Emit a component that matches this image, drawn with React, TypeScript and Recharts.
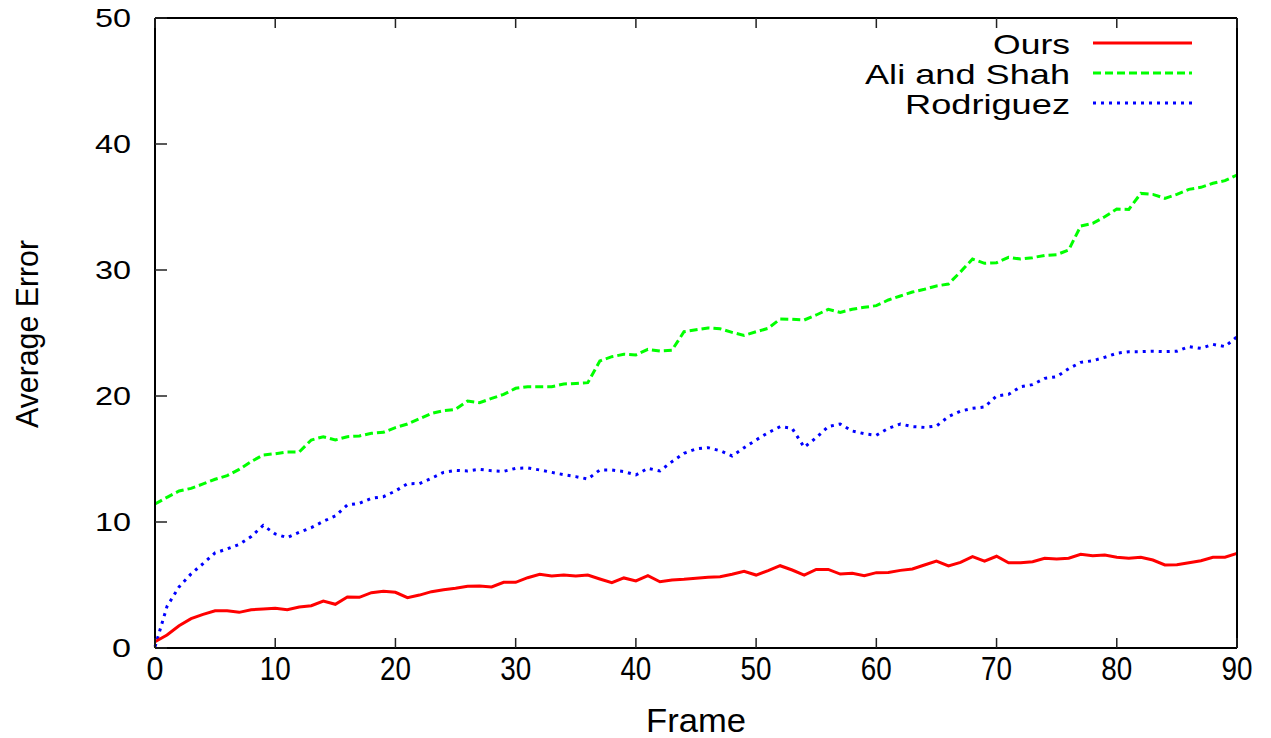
import { LineChart, Line, XAxis, YAxis } from 'recharts';

const ours = [
    0.5, 1.03, 1.77, 2.33, 2.67, 2.96, 2.96, 2.83, 3.04, 3.1,
    3.15, 3.04, 3.25, 3.36, 3.73, 3.47, 4.05, 4.02, 4.39, 4.5,
    4.42, 3.99, 4.2, 4.47, 4.63, 4.74, 4.9, 4.92, 4.84, 5.21,
    5.21, 5.58, 5.85, 5.71, 5.79, 5.71, 5.79, 5.48, 5.19, 5.56,
    5.32, 5.74, 5.26, 5.4, 5.45, 5.53, 5.61, 5.66, 5.85, 6.08,
    5.79, 6.14, 6.53, 6.19, 5.79, 6.24, 6.24, 5.87, 5.93, 5.74,
    5.98, 6.0, 6.16, 6.27, 6.59, 6.9, 6.51, 6.8, 7.25, 6.9,
    7.28, 6.77, 6.77, 6.85, 7.12, 7.06, 7.12, 7.43, 7.33, 7.38,
    7.2, 7.12, 7.2, 6.98, 6.59, 6.61, 6.77, 6.93, 7.2, 7.2,
    7.51,
];

const aliShah = [
    11.43, 11.96, 12.46, 12.67, 13.02, 13.39, 13.68, 14.18, 14.79, 15.32,
    15.42, 15.56, 15.56, 16.51, 16.77, 16.51, 16.77, 16.83, 17.04, 17.12,
    17.49, 17.78, 18.2, 18.62, 18.84, 18.94, 19.6, 19.47, 19.81, 20.13,
    20.61, 20.74, 20.74, 20.74, 20.95, 21.0, 21.06, 22.78, 23.12, 23.31,
    23.26, 23.7, 23.57, 23.63, 25.1, 25.25, 25.4, 25.34, 25.05, 24.81,
    25.1, 25.37, 26.11, 26.09, 26.03, 26.43, 26.88, 26.64, 26.88, 27.04,
    27.17, 27.62, 27.94, 28.25, 28.47, 28.73, 28.89, 29.85, 30.87, 30.53,
    30.58, 31.01, 30.87, 30.98, 31.16, 31.22, 31.59, 33.49, 33.7, 34.23,
    34.84, 34.81, 36.08, 36.0, 35.69, 36.0, 36.4, 36.56, 36.88, 37.09,
    37.54,
];

const rodriguez = [
    0.1, 3.3, 4.85, 5.88, 6.7, 7.55, 7.86, 8.22, 8.85, 9.73,
    9.05, 8.76, 9.18, 9.55, 10.05, 10.48, 11.35, 11.48, 11.88, 12.01,
    12.46, 13.04, 13.05, 13.47, 13.94, 14.1, 14.05, 14.18, 14.07, 14.02,
    14.26, 14.29, 14.13, 13.94, 13.76, 13.6, 13.41, 14.13, 14.13, 14.0,
    13.73, 14.26, 14.05, 14.79, 15.45, 15.8, 15.9, 15.66, 15.24, 15.9,
    16.51, 17.09, 17.57, 17.43, 15.93, 16.69, 17.57, 17.78, 17.22, 17.01,
    16.88, 17.43, 17.78, 17.57, 17.51, 17.62, 18.36, 18.8, 19.02, 19.13,
    20.0, 20.13, 20.74, 20.9, 21.4, 21.53, 22.17, 22.67, 22.8, 23.07,
    23.39, 23.52, 23.52, 23.55, 23.52, 23.55, 23.92, 23.78, 24.1, 23.92,
    24.71,
];

const frames = ours.map((_, i) => i);
const xTicks = [0, 10, 20, 30, 40, 50, 60, 70, 80, 90];
const yTicks = [0, 10, 20, 30, 40, 50];

const legendItems = [
    { name: 'Ours', color: '#ff0000', dash: undefined, textWidth: 77 },
    { name: 'Ali and Shah', color: '#00ff00', dash: '8 4', textWidth: 205 },
    { name: 'Rodriguez', color: '#0000ff', dash: '3 5', textWidth: 165 },
];

const data = frames.map((f, i) => ({
    frame: f,
    ours: ours[i],
    aliShah: aliShah[i],
    rodriguez: rodriguez[i],
}));

const FONT = '"Liberation Sans", Arial, Helvetica, sans-serif';

const BottomTick = (props: any) => {
    const { x, y, payload } = props;
    const label = String(payload.value);
    return (
        <g>
            <line x1={x} y1={y} x2={x} y2={y - 10} stroke="#222" strokeWidth={1.5} />
            <text
                x={x}
                y={y + 32}
                textAnchor="middle"
                fontSize={34}
                fontFamily={FONT}
                fill="#000"
                textLength={label.length === 1 ? 17 : 31}
                lengthAdjust="spacingAndGlyphs"
            >
                {label}
            </text>
        </g>
    );
};

const TopTick = (props: any) => {
    const { x, y } = props;
    return <line x1={x} y1={y} x2={x} y2={y + 10} stroke="#222" strokeWidth={1.5} />;
};

const LeftTick = (props: any) => {
    const { x, y, payload } = props;
    const label = String(payload.value);
    return (
        <g>
            <line x1={x} y1={y} x2={x + 12} y2={y} stroke="#222" strokeWidth={1.5} />
            <text
                x={x - 24}
                y={y + 9}
                textAnchor="end"
                fontSize={26}
                fontFamily={FONT}
                fill="#000"
                textLength={label.length === 1 ? 19 : 36}
                lengthAdjust="spacingAndGlyphs"
            >
                {label}
            </text>
        </g>
    );
};

const RightTick = (props: any) => {
    const { x, y } = props;
    return <line x1={x} y1={y} x2={x - 12} y2={y} stroke="#222" strokeWidth={1.5} />;
};

const App = () => {
    return (
        <div style={{ position: 'absolute', left: 0, top: 0, width: 1271, height: 738, background: '#fff' }}>
            <LineChart width={1271} height={738} data={data} margin={{ top: 17, right: 33, bottom: 89, left: 154 }}>
                <XAxis
                    xAxisId="bottom"
                    dataKey="frame"
                    type="number"
                    domain={[0, 90]}
                    ticks={xTicks}
                    interval={0}
                    height={1}
                    tickSize={0}
                    tickMargin={0}
                    tickLine={false}
                    tick={<BottomTick />}
                    axisLine={{ stroke: '#000', strokeWidth: 2 }}
                />
                <XAxis
                    xAxisId="top"
                    orientation="top"
                    dataKey="frame"
                    type="number"
                    domain={[0, 90]}
                    ticks={xTicks}
                    interval={0}
                    height={1}
                    tickSize={0}
                    tickMargin={0}
                    tickLine={false}
                    tick={<TopTick />}
                    axisLine={{ stroke: '#000', strokeWidth: 2 }}
                />
                <YAxis
                    yAxisId="left"
                    type="number"
                    domain={[0, 50]}
                    ticks={yTicks}
                    interval={0}
                    width={1}
                    tickSize={0}
                    tickMargin={0}
                    tickLine={false}
                    tick={<LeftTick />}
                    axisLine={{ stroke: '#000', strokeWidth: 2 }}
                />
                <YAxis
                    yAxisId="right"
                    orientation="right"
                    type="number"
                    domain={[0, 50]}
                    ticks={yTicks}
                    interval={0}
                    width={1}
                    tickSize={0}
                    tickMargin={0}
                    tickLine={false}
                    tick={<RightTick />}
                    axisLine={{ stroke: '#000', strokeWidth: 2 }}
                />
                <Line
                    xAxisId="bottom"
                    yAxisId="left"
                    type="linear"
                    dataKey="aliShah"
                    stroke="#00ff00"
                    strokeWidth={3}
                    strokeDasharray="8 4"
                    dot={false}
                    activeDot={false}
                    isAnimationActive={false}
                    name="Ali and Shah"
                />
                <Line
                    xAxisId="bottom"
                    yAxisId="left"
                    type="linear"
                    dataKey="rodriguez"
                    stroke="#0000ff"
                    strokeWidth={3}
                    strokeDasharray="3 5"
                    dot={false}
                    activeDot={false}
                    isAnimationActive={false}
                    name="Rodriguez"
                />
                <Line
                    xAxisId="bottom"
                    yAxisId="left"
                    type="linear"
                    dataKey="ours"
                    stroke="#ff0000"
                    strokeWidth={3}
                    dot={false}
                    activeDot={false}
                    isAnimationActive={false}
                    name="Ours"
                />
            </LineChart>
            <svg
                width={1271}
                height={738}
                style={{ position: 'absolute', left: 0, top: 0, pointerEvents: 'none' }}
            >
                <text
                    x={696}
                    y={732}
                    textAnchor="middle"
                    fontSize={33}
                    fontFamily={FONT}
                    textLength={100}
                    lengthAdjust="spacingAndGlyphs"
                >
                    Frame
                </text>
                <text
                    transform="translate(38, 334) rotate(-90)"
                    textAnchor="middle"
                    fontSize={31}
                    fontFamily={FONT}
                    textLength={188}
                    lengthAdjust="spacingAndGlyphs"
                >
                    Average Error
                </text>
                {legendItems.map((item, i) => {
                    const cy = 43 + i * 30;
                    return (
                        <g key={item.name}>
                            <text
                                x={1070}
                                y={cy + 11}
                                textAnchor="end"
                                fontSize={28}
                                fontFamily={FONT}
                                textLength={item.textWidth}
                                lengthAdjust="spacingAndGlyphs"
                            >
                                {item.name}
                            </text>
                            <line
                                x1={1093}
                                y1={cy}
                                x2={1192}
                                y2={cy}
                                stroke={item.color}
                                strokeWidth={3}
                                strokeDasharray={item.dash}
                            />
                        </g>
                    );
                })}
            </svg>
        </div>
    );
};

export default App;
